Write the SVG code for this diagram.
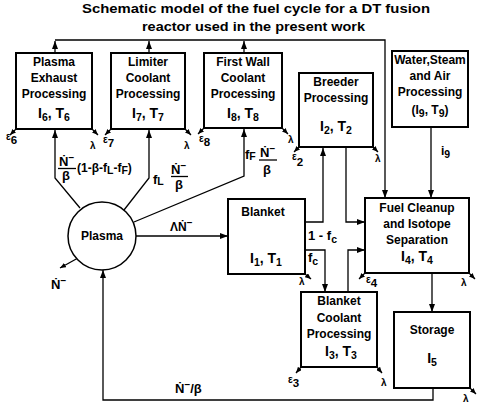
<svg xmlns="http://www.w3.org/2000/svg" width="486" height="416" viewBox="0 0 486 416">
<style>
.box{fill:#fff;stroke:#000;stroke-width:2}
.ln{fill:none;stroke:#000;stroke-width:1.3}
.t{font-family:"Liberation Sans","DejaVu Sans",sans-serif;font-weight:bold;font-size:12px;text-anchor:middle;fill:#000}
.big{font-size:14px}
.sub{font-size:10.5px}
.g{font-family:"Liberation Sans","DejaVu Sans",sans-serif;font-weight:bold;font-size:12px;fill:#000}
.fr{font-size:13px}
.sm{font-size:10px}
</style>
<defs>
<marker id="ah" markerUnits="userSpaceOnUse" markerWidth="8" markerHeight="6" refX="8" refY="3" orient="auto">
<path d="M0,0 L8,3 L0,6 z" fill="#000"/>
</marker>
<marker id="sh" markerUnits="userSpaceOnUse" markerWidth="6" markerHeight="5" refX="6" refY="2.5" orient="auto">
<path d="M0,0 L6,2.5 L0,5 z" fill="#000"/>
</marker>
</defs>
<rect width="486" height="416" fill="#fff"/>
<g id="title">
<text class="g" x="82" y="13" font-size="14" textLength="348" lengthAdjust="spacingAndGlyphs">Schematic model of the fuel cycle for a DT fusion</text>
<text class="g" x="142" y="31" font-size="14" textLength="223" lengthAdjust="spacingAndGlyphs">reactor used in the present work</text>
</g>
<g id="connectors">
<path class="ln" d="M55,53 V41" marker-end="url(#ah)"/>
<path class="ln" d="M149,53 V41" marker-end="url(#ah)"/>
<path class="ln" d="M244,53 V41" marker-end="url(#ah)"/>
<path class="ln" d="M55,40 H385 V198" marker-end="url(#ah)"/>
<path class="ln" d="M80,208 L55,178 V130" marker-end="url(#ah)"/>
<path class="ln" d="M124,210 L149,178 V130" marker-end="url(#ah)"/>
<path class="ln" d="M134,222 L244,176 V129" marker-end="url(#ah)"/>
<path class="ln" d="M136,236 H228" marker-end="url(#ah)"/>
<path class="ln" d="M305,222 H323 V148" marker-end="url(#ah)"/>
<path class="ln" d="M346,147 V222 H365" marker-end="url(#ah)"/>
<path class="ln" d="M305,250 H325 V292" marker-end="url(#ah)"/>
<path class="ln" d="M348,292 V250 H365" marker-end="url(#ah)"/>
<path class="ln" d="M431,127 V198" marker-end="url(#ah)"/>
<path class="ln" d="M432,273 V312" marker-end="url(#ah)"/>
<path class="ln" d="M433,388 V400 H103 V270" marker-end="url(#ah)"/>
<path class="ln" d="M78,258 L60,268" marker-end="url(#sh)"/>
<path class="ln" d="M16,129 L10,135" marker-end="url(#sh)"/>
<path class="ln" d="M92,129 L98,135" marker-end="url(#sh)"/>
<path class="ln" d="M111,129 L105,135" marker-end="url(#sh)"/>
<path class="ln" d="M185,129 L191,135" marker-end="url(#sh)"/>
<path class="ln" d="M204,128 L198,134" marker-end="url(#sh)"/>
<path class="ln" d="M282,128 L288,134" marker-end="url(#sh)"/>
<path class="ln" d="M299,147 L294,152" marker-end="url(#sh)"/>
<path class="ln" d="M373,147 L378,152" marker-end="url(#sh)"/>
<path class="ln" d="M305,274 L311,279" marker-end="url(#sh)"/>
<path class="ln" d="M365,273 L359,279" marker-end="url(#sh)"/>
<path class="ln" d="M469,273 L475,279" marker-end="url(#sh)"/>
<path class="ln" d="M301,367 L296,373" marker-end="url(#sh)"/>
<path class="ln" d="M377,367 L382,373" marker-end="url(#sh)"/>
<path class="ln" d="M470,388 L476,394" marker-end="url(#sh)"/>
<path class="ln" d="M58,168.5 H76"/>
<path class="ln" d="M171,176.5 H188"/>
<path class="ln" d="M259,160 H277"/>
</g>
<g id="labels">
<text class="g fr" x="59" y="166">Ṅ<tspan class="sm" dy="-5">−</tspan></text>
<text class="g fr" x="62" y="180">β</text>
<text class="g" x="77" y="172" font-size="13">(1-β-f<tspan class="sub" dy="2">L</tspan><tspan dy="-2">-f</tspan><tspan class="sub" dy="2">F</tspan><tspan dy="-2">)</tspan></text>
<text class="g fr" x="153" y="184">f<tspan class="sub" dy="1">L</tspan></text>
<text class="g fr" x="171" y="174">Ṅ<tspan class="sm" dy="-5">−</tspan></text>
<text class="g fr" x="175" y="189">β</text>
<text class="g fr" x="245" y="159">f<tspan class="sub" dy="1">F</tspan></text>
<text class="g fr" x="260" y="157">Ṅ<tspan class="sm" dy="-5">−</tspan></text>
<text class="g fr" x="263" y="174">β</text>
<text class="g" x="170" y="231">ΛṄ<tspan class="sm" dy="-5">−</tspan></text>
<text class="g fr" x="51" y="289">Ṅ<tspan class="sm" dy="-5">−</tspan></text>
<text class="g fr" x="175" y="393">Ṅ<tspan class="sm" dy="-5">−</tspan><tspan dy="5">/β</tspan></text>
<text class="g fr" x="308" y="240">1 - f<tspan class="sub" dy="3">c</tspan></text>
<text class="g fr" x="308" y="262">f<tspan class="sub" dy="3">c</tspan></text>
<text class="g" x="441" y="155" font-size="15">i<tspan class="sub" dy="3">9</tspan></text>
<text class="g sm" x="6" y="140">ε<tspan font-size="11.5" dy="4">6</tspan></text>
<text class="g sm" x="90" y="149">λ</text>
<text class="g sm" x="103" y="143">ε<tspan font-size="11.5" dy="4">7</tspan></text>
<text class="g sm" x="184" y="149">λ</text>
<text class="g sm" x="199" y="142">ε<tspan font-size="11.5" dy="4">8</tspan></text>
<text class="g sm" x="288" y="143">λ</text>
<text class="g sm" x="292" y="160">ε<tspan font-size="11.5" dy="6">2</tspan></text>
<text class="g sm" x="375" y="162">λ</text>
<text class="g sm" x="299" y="285">λ</text>
<text class="g sm" x="366" y="283">ε<tspan font-size="11.5" dy="4">4</tspan></text>
<text class="g sm" x="461" y="286">λ</text>
<text class="g sm" x="288" y="383">ε<tspan font-size="11.5" dy="4">3</tspan></text>
<text class="g sm" x="381" y="386">λ</text>
<text class="g sm" x="463" y="402">λ</text>
</g>
<g id="plasma-exhaust">
<rect class="box" x="16" y="53" width="76" height="76"/>
<text class="t" x="54" y="66">Plasma</text>
<text class="t" x="54" y="82">Exhaust</text>
<text class="t" x="54" y="98">Processing</text>
<text class="t big" x="54" y="118">I<tspan class="sub" dy="3">6</tspan><tspan dy="-3">, T</tspan><tspan class="sub" dy="3">6</tspan></text>
</g>
<g id="limiter">
<rect class="box" x="111" y="53" width="74" height="76"/>
<text class="t" x="148" y="66">Limiter</text>
<text class="t" x="148" y="82">Coolant</text>
<text class="t" x="148" y="98">Processing</text>
<text class="t big" x="148" y="118">I<tspan class="sub" dy="3">7</tspan><tspan dy="-3">, T</tspan><tspan class="sub" dy="3">7</tspan></text>
</g>
<g id="first-wall">
<rect class="box" x="204" y="53" width="78" height="75"/>
<text class="t" x="243" y="66">First Wall</text>
<text class="t" x="243" y="82">Coolant</text>
<text class="t" x="243" y="98">Processing</text>
<text class="t big" x="243" y="118">I<tspan class="sub" dy="3">8</tspan><tspan dy="-3">, T</tspan><tspan class="sub" dy="3">8</tspan></text>
</g>
<g id="breeder">
<rect class="box" x="299" y="73" width="74" height="74"/>
<text class="t" x="336" y="86">Breeder</text>
<text class="t" x="336" y="102">Processing</text>
<text class="t big" x="336" y="131">I<tspan class="sub" dy="3">2</tspan><tspan dy="-3">, T</tspan><tspan class="sub" dy="3">2</tspan></text>
</g>
<g id="water-steam">
<rect class="box" x="392" y="51" width="76" height="76"/>
<text class="t" x="430" y="64">Water,Steam</text>
<text class="t" x="430" y="80">and Air</text>
<text class="t" x="430" y="96">Processing</text>
<text class="t" x="430" y="114" font-size="13">(I<tspan class="sub" dy="3">9</tspan><tspan dy="-3">, T</tspan><tspan class="sub" dy="3">9</tspan><tspan dy="-3">)</tspan></text>
</g>
<g id="plasma">
<circle cx="102" cy="236" r="34" fill="#fff" stroke="#000" stroke-width="1.5"/>
<text class="t" x="102" y="240">Plasma</text>
</g>
<g id="blanket">
<rect class="box" x="228" y="199" width="77" height="75"/>
<text class="t" x="263" y="216">Blanket</text>
<text class="t big" x="266" y="263">I<tspan class="sub" dy="3">1</tspan><tspan dy="-3">, T</tspan><tspan class="sub" dy="3">1</tspan></text>
</g>
<g id="fuel-cleanup">
<rect class="box" x="365" y="198" width="104" height="75"/>
<text class="t" x="417" y="212">Fuel Cleanup</text>
<text class="t" x="417" y="228">and Isotope</text>
<text class="t" x="417" y="244">Separation</text>
<text class="t big" x="417" y="261">I<tspan class="sub" dy="3">4</tspan><tspan dy="-3">, T</tspan><tspan class="sub" dy="3">4</tspan></text>
</g>
<g id="blanket-coolant">
<rect class="box" x="301" y="292" width="76" height="75"/>
<text class="t" x="339" y="305">Blanket</text>
<text class="t" x="339" y="322">Coolant</text>
<text class="t" x="339" y="338">Processing</text>
<text class="t big" x="341" y="356">I<tspan class="sub" dy="3">3</tspan><tspan dy="-3">, T</tspan><tspan class="sub" dy="3">3</tspan></text>
</g>
<g id="storage">
<rect class="box" x="394" y="312" width="76" height="76"/>
<text class="t" x="432" y="334">Storage</text>
<text class="t big" x="432" y="363">I<tspan class="sub" dy="3">5</tspan></text>
</g>
</svg>
